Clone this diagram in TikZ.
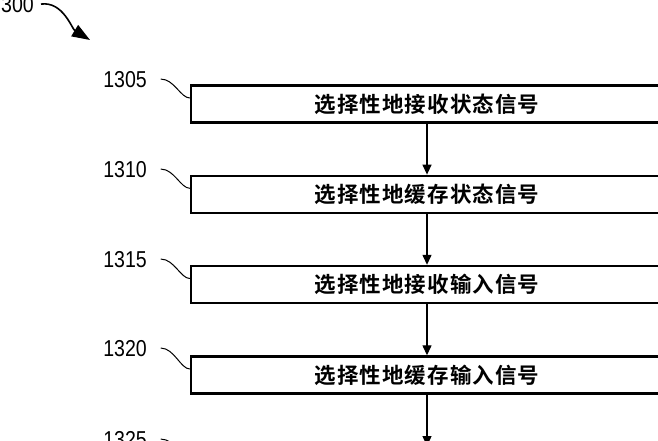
\documentclass[tikz,border=0pt]{standalone}
\usepackage{fontspec}
\setmainfont{Liberation Sans}
\newfontfamily\cjk[BoldFont={* Bold},LetterSpace=5]{Noto Sans CJK SC}
\usetikzlibrary{arrows.meta}
\tikzset{
  stepbox/.style={draw=black, line width=2.4pt, fill=white, minimum width=472pt, minimum height=37pt, inner sep=0pt, font=\cjk\bfseries\fontsize{21.5}{21.5}\selectfont},
  reflabel/.style={inner sep=0pt, anchor=base east, font=\fontsize{23}{23}\selectfont, xscale=0.85},
  leader/.style={line width=1pt, line cap=round},
  flow/.style={line width=1.3pt, -{Triangle[length=10pt,width=9pt]}},
  bigarrow/.style={line width=1.6pt, -{Triangle[length=18pt,width=13pt]}}
}
\begin{document}
\begin{tikzpicture}[x=1pt, y=-1pt]
\useasboundingbox (0,0) rectangle (658,440);
\fill[white] (0,0) rectangle (658,440);

% overall reference
\node[reflabel] (n300) at (34,12) {300};
\coordinate (t300) at (90,40);
\draw[bigarrow] ([xshift=7pt]n300.east) .. controls +(22,-3) and +(-18,-11) .. (t300);

% boxes
\node[stepbox] (b1) at (427,104) {选择性地接收状态信号};
\node[stepbox] (b2) at (427,194.3) {选择性地缓存状态信号};
\node[stepbox] (b3) at (427,284.5) {选择性地接收输入信号};
\node[stepbox] (b4) at (427,375) {选择性地缓存输入信号};
\coordinate (c5) at (427,446);

% reference labels
\node[reflabel] (l1) at (147,87) {1305};
\node[reflabel] (l2) at (147,177) {1310};
\node[reflabel] (l3) at (147,267) {1315};
\node[reflabel] (l4) at (147,356) {1320};
\node[reflabel] (l5) at (147,447) {1325};

% leaders
\foreach \i in {1,2,3,4}{
  \draw[leader] ([xshift=14pt]l\i.east) .. controls +(13,0) and +(-9,0) .. ([yshift=6pt]b\i.west);
}
\draw[leader] ([xshift=14pt]l5.east) .. controls +(13,0) and +(-9,0) .. ([xshift=44pt,yshift=-18pt]l5.east);

% flow arrows
\draw[flow] (b1) -- (b2);
\draw[flow] (b2) -- (b3);
\draw[flow] (b3) -- (b4);
\draw[flow] (b4) -- (c5);
\end{tikzpicture}
\end{document}
